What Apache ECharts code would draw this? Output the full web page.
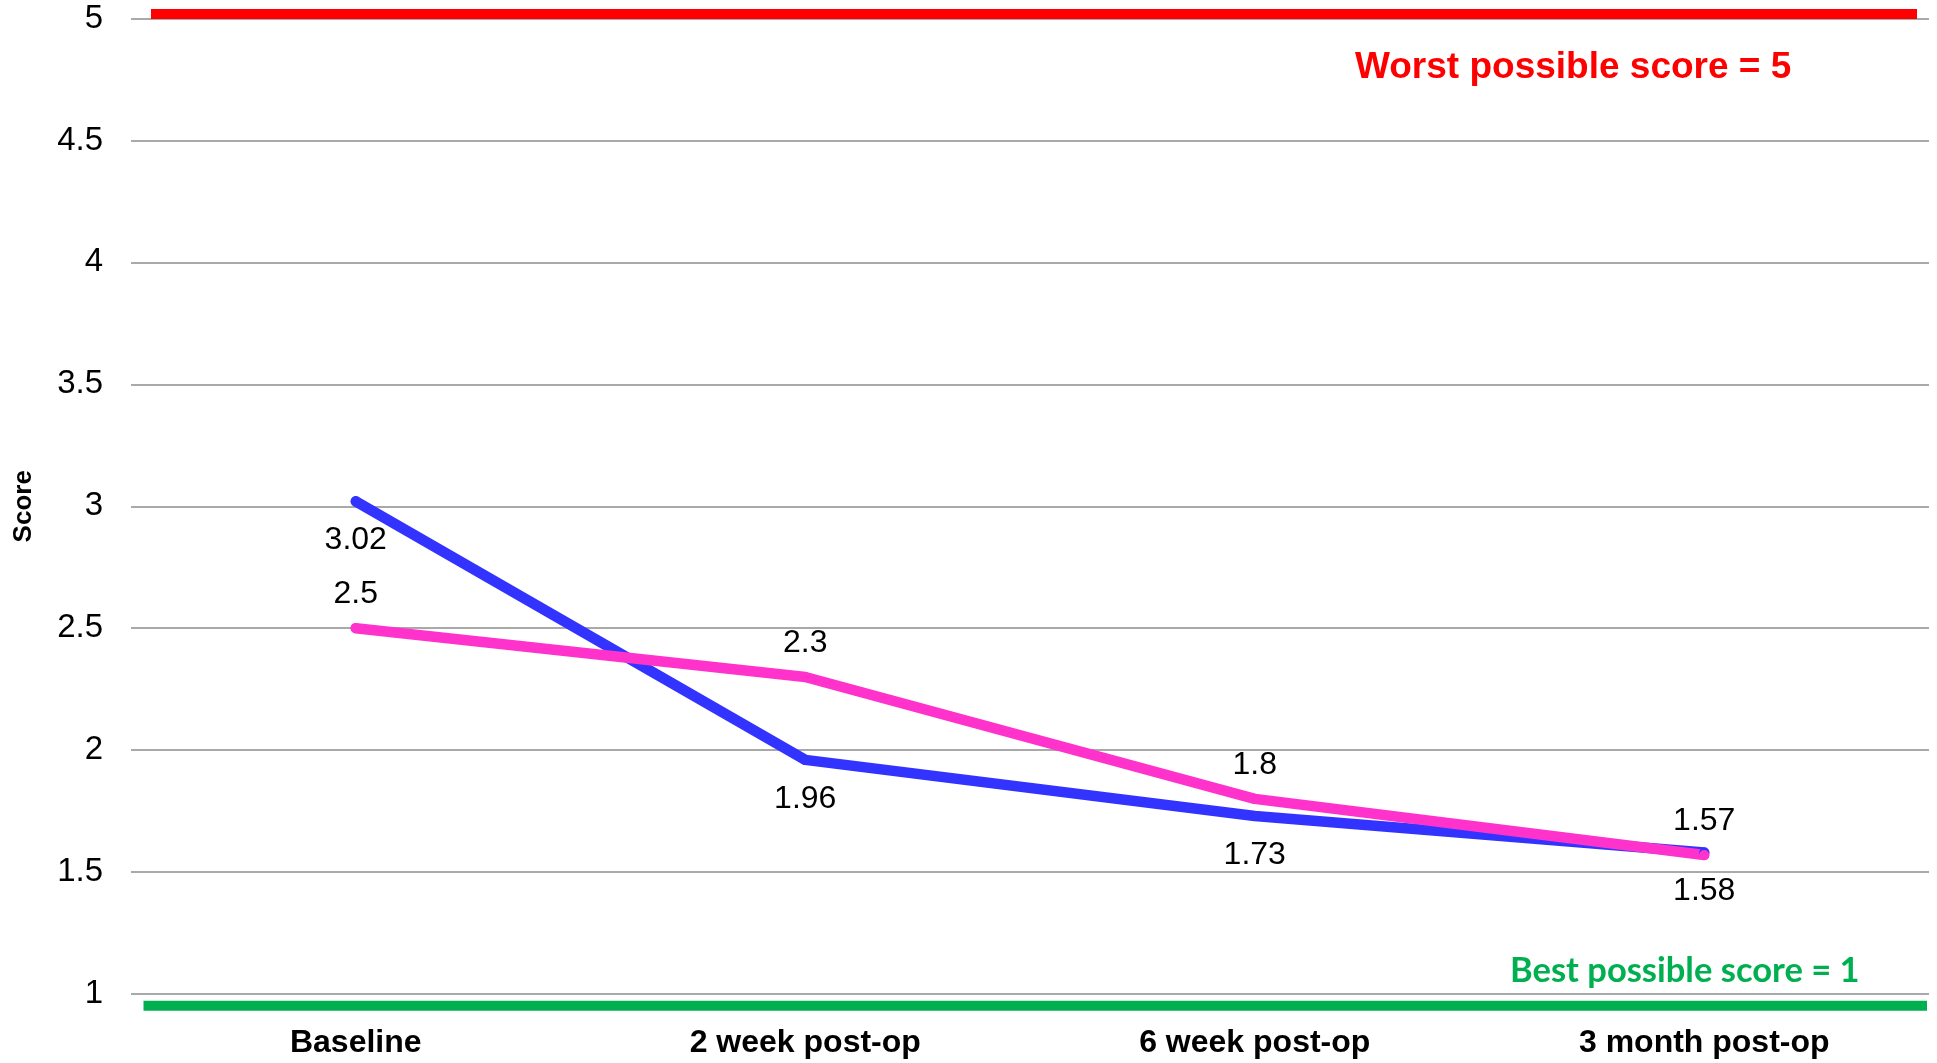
<!DOCTYPE html>
<html>
<head>
<meta charset="utf-8">
<script src="https://cdn.jsdelivr.net/npm/echarts@6/dist/echarts.min.js"></script>
<style>
  html, body { margin: 0; padding: 0; background: #fff; }
  #chart { width: 1937px; height: 1063px; }
</style>
</head>
<body>
<div id="chart"></div>
<script>
// data
const categories = ['Baseline', '2 week post-op', '6 week post-op', '3 month post-op'];
const blueScores = [3.02, 1.96, 1.73, 1.58];
const pinkScores = [2.5, 2.3, 1.8, 1.57];
const worstScore = 5;
const bestScore = 1;
const yMin = 1, yMax = 5, yStep = 0.5;

const FONT = 'Liberation Sans, Arial, sans-serif';
const GRID = { left: 131, right: 8, top: 18.5, bottom: 69 };

const chart = echarts.init(document.getElementById('chart'));

function lineSeries(name, data, color, labelPos, dist) {
  return {
    name: name,
    type: 'line',
    data: data,
    symbol: 'circle',
    symbolSize: 10,
    itemStyle: { color: color },
    lineStyle: { width: 10.5, color: color, cap: 'round', join: 'round' },
    label: {
      show: true,
      position: labelPos,
      distance: dist,
      color: '#000',
      fontSize: 32,
      fontFamily: FONT
    },
    animation: false
  };
}

chart.setOption({
  backgroundColor: '#fff',
  grid: Object.assign({ outerBoundsMode: 'none', containLabel: false }, GRID),
  xAxis: {
    type: 'category',
    data: categories,
    boundaryGap: true,
    axisLine: { show: false },
    axisTick: { show: false },
    axisLabel: { color: '#000', fontSize: 32, fontWeight: 'bold', fontFamily: FONT, margin: 33 }
  },
  yAxis: {
    type: 'value',
    min: yMin,
    max: yMax,
    interval: yStep,
    name: 'Score',
    nameLocation: 'middle',
    nameRotate: 90,
    nameGap: 94,
    nameTextStyle: { color: '#000', fontSize: 26, fontWeight: 'bold', fontFamily: FONT },
    axisLine: { show: false },
    axisTick: { show: false },
    axisLabel: { color: '#000', fontSize: 33, fontFamily: FONT, margin: 28 },
    splitLine: { lineStyle: { color: '#8c8c8c', width: 1.5 } }
  },
  series: [
    lineSeries('Blue', blueScores, '#3333ff', 'bottom', 18),
    lineSeries('Pink', pinkScores, '#ff33cc', 'top', 13)
  ]
});

// reference bars and their captions, placed through the y scale
const W = 1937;
const yWorst = chart.convertToPixel({ yAxisIndex: 0 }, worstScore);
const yBest = chart.convertToPixel({ yAxisIndex: 0 }, bestScore);

chart.setOption({
  graphic: [
    {
      type: 'rect',
      shape: { x: GRID.left + 20, y: yWorst - 9.5, width: W - GRID.right - 12 - (GRID.left + 20), height: 10 },
      style: { fill: '#ff0000' },
      z: 10
    },
    {
      type: 'rect',
      shape: { x: GRID.left + 12.5, y: yBest + 6.7, width: W - GRID.right - 2 - (GRID.left + 12.5), height: 10 },
      style: { fill: '#00b050' },
      z: 10
    },
    {
      type: 'text',
      x: 1355,
      y: yWorst + 49.5,
      style: {
        text: 'Worst possible score = ' + worstScore,
        fill: '#ff0000',
        font: 'bold 37px ' + FONT,
        align: 'left',
        verticalAlign: 'middle'
      },
      z: 10
    },
    {
      type: 'text',
      x: 1510,
      y: yBest - 23,
      style: {
        text: 'Best possible score = ' + bestScore,
        fill: '#00b050',
        font: 'bold 34.5px Lato, "Open Sans", sans-serif',
        align: 'left',
        verticalAlign: 'middle'
      },
      z: 10
    }
  ]
});
</script>
</body>
</html>
